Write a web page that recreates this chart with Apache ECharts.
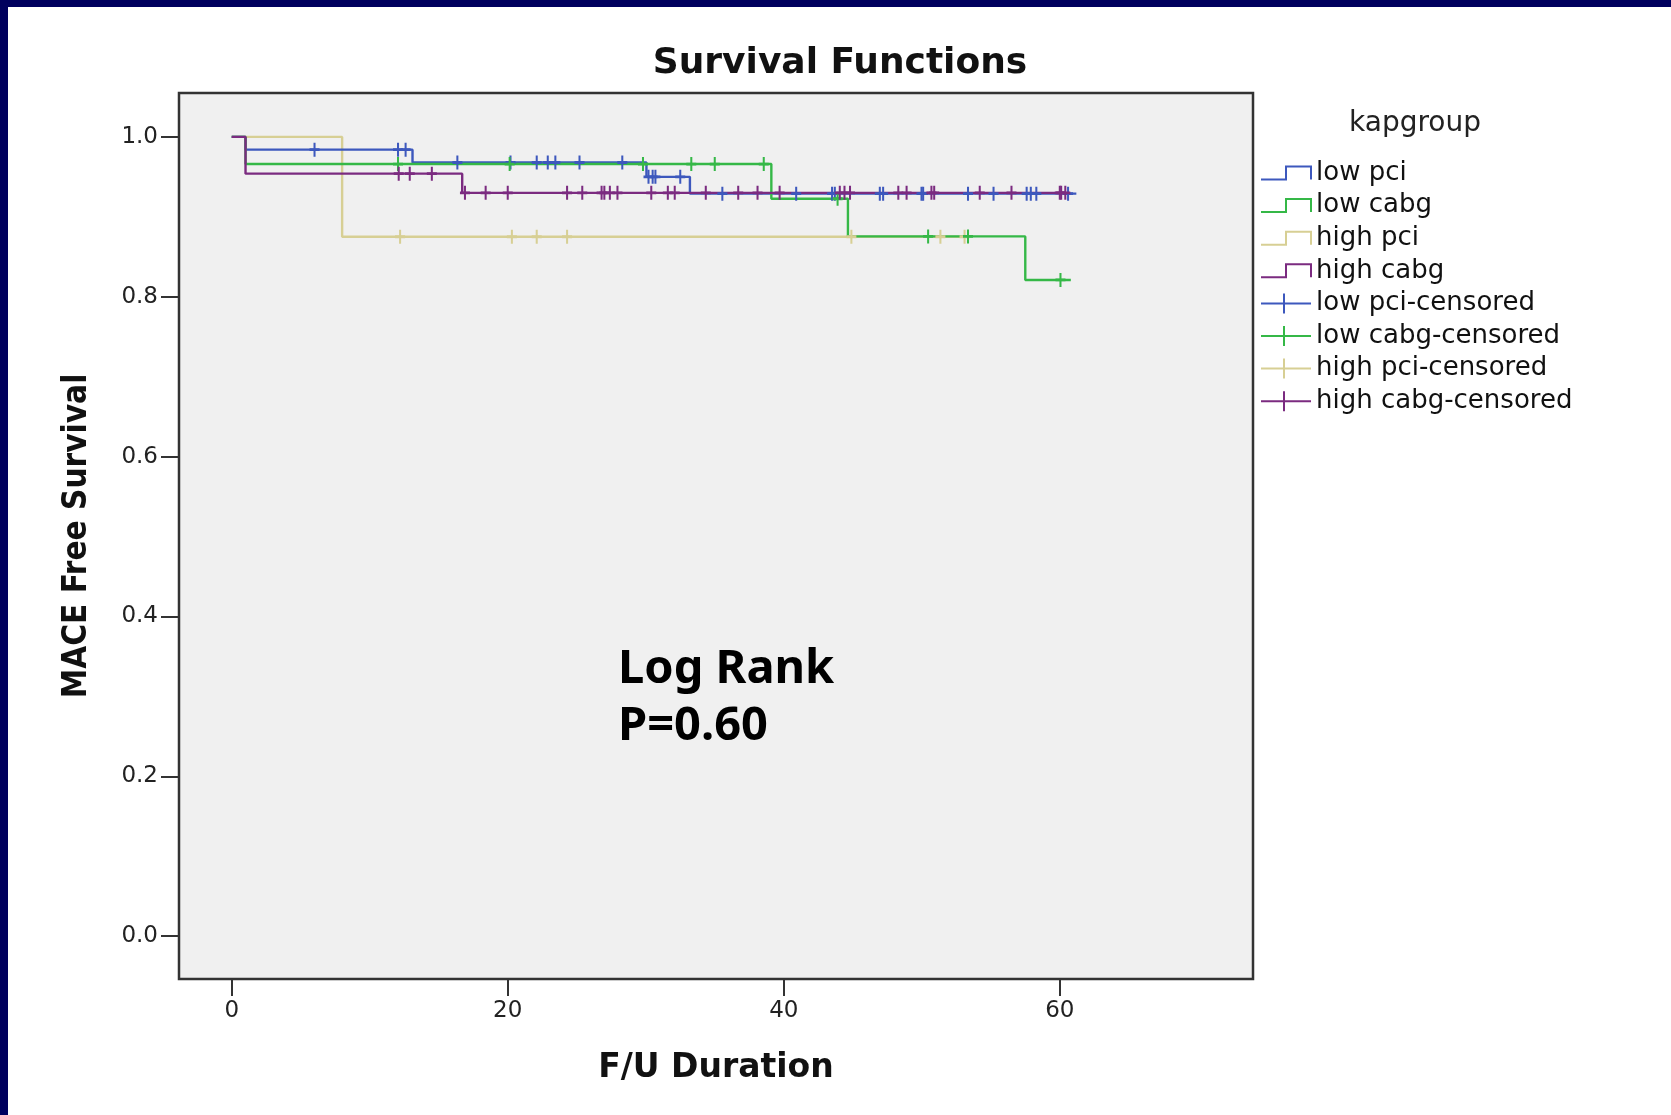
<!DOCTYPE html>
<html><head><meta charset="utf-8">
<script src="https://cdn.jsdelivr.net/npm/echarts@6/dist/echarts.min.js"></script>
<style>
html,body{margin:0;padding:0;background:#fff;}
#wrap{position:relative;width:1671px;height:1115px;overflow:hidden;background:#fff;}
#chart{position:absolute;left:0;top:0;width:1671px;height:1115px;}
.bt{position:absolute;left:0;top:0;width:1671px;height:7px;background:#00005e;}
.bl{position:absolute;left:0;top:0;width:8px;height:1115px;background:#00005e;}
</style></head><body>
<div id="wrap"><div id="chart"></div><div class="bt"></div><div class="bl"></div></div>
<script>
// ---- data ----
const groupNames = ['low pci', 'low cabg', 'high pci', 'high cabg'];
const censorNames = ['low pci-censored', 'low cabg-censored', 'high pci-censored', 'high cabg-censored'];

// Kaplan-Meier step points: time (months) and survival; last point = end of follow-up
const lowPciTimes  = [0, 1.0, 13.1, 30.05, 33.2, 61.2];
const lowPciSurv   = [1.0, 0.984, 0.968, 0.950, 0.929, 0.929];
const lowCabgTimes = [0, 1.0, 39.1, 44.65, 57.5, 60.8];
const lowCabgSurv  = [1.0, 0.966, 0.9226, 0.8755, 0.821, 0.821];
const highPciTimes = [0, 8.0, 53.2];
const highPciSurv  = [1.0, 0.875, 0.875];
const highCabgTimes = [0, 1.0, 16.7, 60.4];
const highCabgSurv  = [1.0, 0.954, 0.930, 0.930];

// censoring times
const lowPciCensor = [6.0, 12.05, 12.6, 16.35, 20.2, 22.1, 22.9, 23.45, 25.2, 28.3, 30.2, 30.5, 30.7, 32.5,
  35.55, 40.9, 43.5, 43.7, 46.96, 47.2, 49.98, 50.1, 53.35, 55.2, 57.6, 57.9, 58.3, 60.6];
const lowCabgCensor = [12.05, 20.14, 29.8, 33.3, 35.0, 38.55, 43.9, 50.46, 53.35, 60.05];
const highPciCensor = [12.2, 20.3, 22.1, 24.3, 44.9, 51.35, 53.1];
const highCabgCensor = [12.1, 12.9, 14.5, 16.9, 18.4, 20.0, 24.3, 25.4, 26.8, 27.0, 27.4, 27.95, 30.4, 31.6,
  32.1, 34.35, 36.7, 38.1, 39.7, 44.06, 44.4, 44.8, 48.3, 48.9, 50.7, 50.9, 54.2, 56.5, 60.0, 60.1, 60.4];

const xTicks = [0, 20, 40, 60];
const yTicks = [0, 0.2, 0.4, 0.6, 0.8, 1.0];

// ---- styling ----
const colors = ['#3d58bd', '#35b847', '#d7cf94', '#7b2b80'];

function pairs(ts, ss) { return ts.map((t, i) => [t, ss[i]]); }
function survAt(ts, ss, t) { let v = ss[0]; for (let i = 0; i < ts.length; i++) { if (ts[i] <= t) v = ss[i]; } return v; }

const curves = [
  [lowPciTimes, lowPciSurv, lowPciCensor],
  [lowCabgTimes, lowCabgSurv, lowCabgCensor],
  [highPciTimes, highPciSurv, highPciCensor],
  [highCabgTimes, highCabgSurv, highCabgCensor]
];
const drawOrder = [2, 0, 1, 3];

const plusSymbol = 'path://M0,7 L10,7 M5,0 L5,14';
const stepIcon = 'path://M0,17 L25,17 L25,4 L50,4 L50,17';
const censIcon = 'path://M0,10 L50,10 M23,0 L23,20';

const series = [];
drawOrder.forEach(g => {
  const [ts, ss] = curves[g];
  series.push({
    name: groupNames[g], type: 'line', step: 'end', showSymbol: false, symbol: 'none',
    data: pairs(ts, ss), lineStyle: { color: colors[g], width: 2.4 }, itemStyle: { color: colors[g] },
    silent: true, z: 2
  });
});
drawOrder.forEach(g => {
  const [ts, ss, cs] = curves[g];
  series.push({
    name: censorNames[g], type: 'scatter', symbol: plusSymbol, symbolSize: [10, 14],
    data: cs.map(t => [t, survAt(ts, ss, t)]),
    itemStyle: { color: 'rgba(0,0,0,0)', borderColor: colors[g], borderWidth: 2.4, opacity: 1 },
    silent: true, z: 3
  });
});

const legendData = groupNames.map((n, g) => ({
  name: n, icon: stepIcon,
  itemStyle: { color: 'rgba(0,0,0,0)', borderColor: colors[g], borderWidth: 2 }
})).concat(censorNames.map((n, g) => ({
  name: n, icon: censIcon,
  itemStyle: { color: 'rgba(0,0,0,0)', borderColor: colors[g], borderWidth: 2 }
})));

const chart = echarts.init(document.getElementById('chart'), null, { renderer: 'canvas' });
chart.setOption({
  animation: false,
  backgroundColor: '#ffffff',
  title: [
    { text: 'Survival Functions', left: 840, top: 46, textAlign: 'center', padding: 0,
      textStyle: { fontFamily: 'DejaVu Sans', fontWeight: 'bold', fontSize: 36, color: '#111' } },
    { text: 'kapgroup', left: 1415, top: 110, textAlign: 'center', padding: 0,
      textStyle: { fontFamily: 'DejaVu Sans', fontWeight: 'normal', fontSize: 28, color: '#222' } },
    { text: 'Log Rank\nP=0.60', left: 618, top: 641, padding: 0,
      textStyle: { fontFamily: 'Noto Sans', fontWeight: 'bold', fontSize: 47, lineHeight: 57, color: '#000' } }
  ],
  legend: {
    orient: 'vertical', left: 1260, top: 160, padding: 0,
    itemWidth: 50, itemHeight: 20, itemGap: 6.6, selectedMode: false,
    textStyle: { fontFamily: 'DejaVu Sans', fontSize: 26, color: '#111' },
    data: legendData
  },
  grid: {
    left: 179, right: 418, top: 93, bottom: 136, show: true,
    backgroundColor: '#f0f0f0', borderColor: '#333', borderWidth: 2.5
  },
  xAxis: {
    type: 'value', min: -3.82, max: 74,
    axisLine: { show: false, onZero: false }, splitLine: { show: false },
    axisTick: { show: true, length: 17, customValues: xTicks, lineStyle: { color: '#333', width: 2 } },
    axisLabel: { customValues: xTicks, margin: 21, fontFamily: 'DejaVu Sans', fontSize: 23, color: '#222' },
    name: 'F/U Duration', nameLocation: 'middle', nameGap: 73,
    nameTextStyle: { fontFamily: 'DejaVu Sans', fontWeight: 'bold', fontSize: 33, color: '#111' }
  },
  yAxis: {
    type: 'value', min: -0.0536, max: 1.0549,
    axisLine: { show: false, onZero: false }, splitLine: { show: false },
    axisTick: { show: true, length: 18, customValues: yTicks, lineStyle: { color: '#333', width: 2 } },
    axisLabel: { customValues: yTicks, margin: 21, fontFamily: 'DejaVu Sans', fontSize: 23, color: '#222',
      formatter: v => v.toFixed(1) },
    name: 'MACE Free Survival', nameLocation: 'middle', nameGap: 85,
    nameTextStyle: { fontFamily: "'DejaVu Sans Condensed', sans-serif", fontWeight: 'bold', fontSize: 33, color: '#111' }
  },
  series: series
});
</script>
</body></html>
